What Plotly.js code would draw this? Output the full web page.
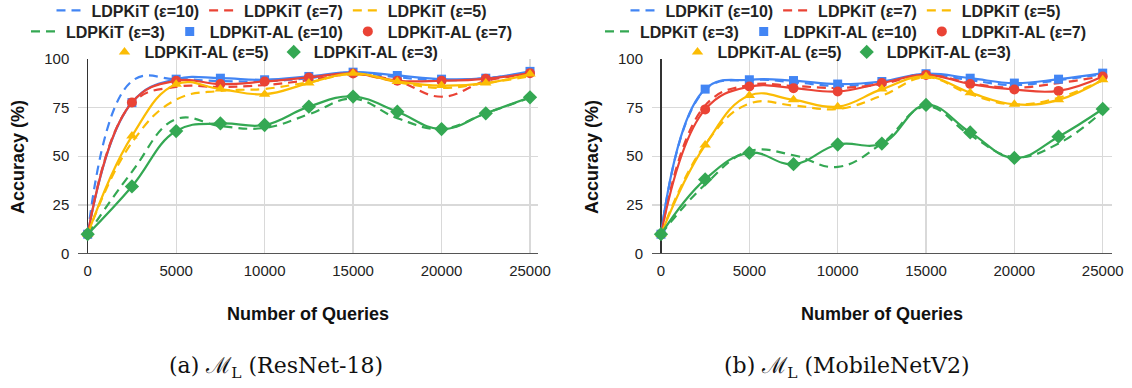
<!DOCTYPE html>
<html>
<head>
<meta charset="utf-8">
<script src="https://cdn.plot.ly/plotly-3.0.1.min.js"></script>
<style>html,body{margin:0;padding:0;background:#fff;}#chart{width:1132px;height:388px;}</style>
</head>
<body>
<div id="chart"></div>
<script>
// ---------- data ----------
const queries = [0, 2500, 5000, 7500, 10000, 12500, 15000, 17500, 20000, 22500, 25000];
const xTicks = [0, 5000, 10000, 15000, 20000, 25000];
const yTicks = [0, 25, 50, 75, 100];

// (a) ResNet-18
const ldp10_a = [10, 88.5, 89.5, 88.5, 88.5, 90, 93, 90.5, 89, 90, 93];
const ldp7_a  = [10, 77, 85.5, 85.5, 86.5, 89, 92, 88.5, 80.5, 88.5, 92];
const ldp5_a  = [10, 57, 79, 83.5, 84.5, 88, 92, 88, 85, 87.5, 91];
const ldp3_a  = [10, 42, 69, 65.5, 64.5, 71.5, 79.5, 69.5, 64, 72, 80];
const al10_a  = [10, 77.5, 89.5, 90, 89.2, 90.9, 93.1, 91.4, 89.5, 90, 93.5];
const al7_a   = [10, 77.5, 88.7, 87, 88.3, 90.4, 92.4, 88.7, 88.7, 89.7, 92.6];
const al5_a   = [10, 60.3, 86.9, 84.4, 81.8, 87.5, 92.5, 88.3, 86.2, 87.5, 92.1];
const al3_a   = [10, 34.5, 62.9, 66.8, 66, 75.4, 80.6, 72.8, 63.9, 72, 80.2];

// (b) MobileNetV2
const ldp10_b = [10, 84, 89, 88, 86, 88, 92, 89, 86.5, 89, 92];
const ldp7_b  = [10, 76, 86.5, 86, 85, 87, 92, 87.5, 85.2, 87.5, 91];
const ldp5_b  = [10, 56, 77, 76, 74.2, 81, 90.5, 81.8, 76.5, 80, 89];
const ldp3_b  = [10, 35.5, 52.6, 50.5, 44.5, 56.5, 75.5, 60.8, 49.5, 56.5, 73];
const al10_b  = [10, 84.4, 89.2, 88.8, 87, 88.3, 92.3, 90, 87.5, 89.5, 92.6];
const al7_b   = [10, 74, 85.7, 84.9, 83.2, 87.5, 91.7, 87, 84.2, 83.5, 90.9];
const al5_b   = [10, 55.7, 81.1, 78.9, 75.4, 84.4, 90.9, 82.6, 76.6, 78.9, 89.2];
const al3_b   = [10, 38.1, 51.7, 45.9, 56, 56.5, 76.3, 62.2, 49.1, 60, 74.2];

const names = {
  ldp10: 'LDPKiT (ε=10)', ldp7: 'LDPKiT (ε=7)', ldp5: 'LDPKiT (ε=5)', ldp3: 'LDPKiT (ε=3)',
  al10: 'LDPKiT-AL (ε=10)', al7: 'LDPKiT-AL (ε=7)', al5: 'LDPKiT-AL (ε=5)', al3: 'LDPKiT-AL (ε=3)'
};
const captions = ['(a) ℳ<sub>L</sub> (ResNet-18)', '(b) ℳ<sub>L</sub> (MobileNetV2)'];

// ---------- styles ----------
const C = {blue: '#4285F4', red: '#EA4335', yellow: '#FBBC04', green: '#34A853'};
const W = 1132, H = 388;
const FONT = "'Liberation Sans', Arial, sans-serif";
const SMOOTH = 1.2;

function dashed(y, color, name, xa, ya, leg) {
  return {x: queries, y: y, type: 'scatter', mode: 'lines', name: name,
    xaxis: xa, yaxis: ya, legend: leg, hoverinfo: 'skip',
    line: {color: color, width: 2.2, dash: '9px,6px', shape: 'spline', smoothing: SMOOTH}};
}
function solid(y, color, name, xa, ya) {
  return {x: queries, y: y, type: 'scatter', mode: 'lines', name: name, showlegend: false,
    xaxis: xa, yaxis: ya, hoverinfo: 'skip',
    line: {color: color, width: 2.2, shape: 'spline', smoothing: SMOOTH}};
}
function marks(y, color, symbol, size, name, xa, ya, leg) {
  return {x: queries, y: y, type: 'scatter', mode: 'markers', name: name,
    xaxis: xa, yaxis: ya, legend: leg, hoverinfo: 'skip', cliponaxis: false,
    marker: {color: color, symbol: symbol, size: size, line: {width: 0}}};
}
function panel(d, xa, ya, legs) {
  return [
    dashed(d.ldp10, C.blue, names.ldp10, xa, ya, legs[0]),
    dashed(d.ldp7, C.red, names.ldp7, xa, ya, legs[0]),
    dashed(d.ldp5, C.yellow, names.ldp5, xa, ya, legs[0]),
    dashed(d.ldp3, C.green, names.ldp3, xa, ya, legs[1]),
    solid(d.al10, C.blue, names.al10, xa, ya),
    marks(d.al10, C.blue, 'square', 9, names.al10, xa, ya, legs[1]),
    solid(d.al7, C.red, names.al7, xa, ya),
    marks(d.al7, C.red, 'circle', 10, names.al7, xa, ya, legs[1]),
    solid(d.al5, C.yellow, names.al5, xa, ya),
    marks(d.al5, C.yellow, 'triangle-up', 10, names.al5, xa, ya, legs[2]),
    solid(d.al3, C.green, names.al3, xa, ya),
    marks(d.al3, C.green, 'diamond', 11, names.al3, xa, ya, legs[2])
  ];
}

const data = [].concat(
  panel({ldp10: ldp10_a, ldp7: ldp7_a, ldp5: ldp5_a, ldp3: ldp3_a, al10: al10_a, al7: al7_a, al5: al5_a, al3: al3_a},
        'x', 'y', ['legend', 'legend2', 'legend3']),
  panel({ldp10: ldp10_b, ldp7: ldp7_b, ldp5: ldp5_b, ldp3: ldp3_b, al10: al10_b, al7: al7_b, al5: al5_b, al3: al3_b},
        'x2', 'y2', ['legend4', 'legend5', 'legend6'])
);

const tickFont = {family: FONT, size: 15, color: '#222'};
function xaxis(dom, range, anchor) {
  return {domain: dom, range: range, anchor: anchor, tickmode: 'array', tickvals: xTicks,
    ticktext: xTicks.map(String), showgrid: true, gridcolor: '#d9d9d9', gridwidth: 1.2,
    zeroline: true, zerolinecolor: '#333', zerolinewidth: 1.2, showline: false, ticks: '',
    ticklabelstandoff: 6, tickfont: tickFont, fixedrange: true, automargin: false};
}
function yaxis(anchor) {
  return {domain: [(H - 253.7) / H, (H - 58.7) / H], range: [0, 100], anchor: anchor,
    tickmode: 'array', tickvals: yTicks, ticktext: yTicks.map(String),
    showgrid: true, gridcolor: '#d9d9d9', gridwidth: 1.2,
    zeroline: true, zerolinecolor: '#555', zerolinewidth: 1.2, showline: false, ticks: '',
    ticklabelstandoff: 8, tickfont: tickFont, fixedrange: true, automargin: false};
}
function legend(xc, yc) {
  return {orientation: 'h', xref: 'container', yref: 'container',
    x: xc / W, xanchor: 'center', y: 1 - yc / H, yanchor: 'middle',
    bgcolor: 'rgba(0,0,0,0)', borderwidth: 0, itemwidth: 30, traceorder: 'normal',
    font: {family: FONT, size: 16, color: '#222', weight: 'bold'}, itemclick: false, itemdoubleclick: false};
}
function ann(text, px, py, font, angle) {
  return {text: text, x: px / W, y: 1 - py / H, xref: 'paper', yref: 'paper',
    xanchor: 'center', yanchor: 'middle', showarrow: false, font: font, textangle: angle || 0};
}
const titleFont = {family: FONT, size: 18, color: '#111', weight: 'bold'};
const capFont = {family: "'DejaVu Serif', 'Liberation Serif', serif", size: 22, color: '#111'};

const layout = {
  width: W, height: H, margin: {l: 0, r: 0, t: 0, b: 0, autoexpand: false},
  paper_bgcolor: '#fff', plot_bgcolor: '#fff', showlegend: true,
  xaxis: xaxis([78.3 / W, 538 / W], [-531, 25452], 'y'),
  yaxis: yaxis('x'),
  xaxis2: xaxis([652 / W, 1112 / W], [-509, 25526], 'y2'),
  yaxis2: yaxis('x2'),
  legend: legend(272, 10.5), legend2: legend(272, 31.5), legend3: legend(274, 52),
  legend4: legend(846, 10.5), legend5: legend(846, 31.5), legend6: legend(847, 52),
  annotations: [
    ann('Number of Queries', 308, 314, titleFont),
    ann('Number of Queries', 882, 314, titleFont),
    ann('Accuracy (%)', 18, 157, titleFont, -90),
    ann('Accuracy (%)', 592, 157, titleFont, -90),
    ann(captions[0], 276, 367, capFont),
    ann(captions[1], 847, 367, capFont)
  ]
};

Plotly.newPlot('chart', data, layout, {staticPlot: true, displayModeBar: false});
</script>
</body>
</html>
